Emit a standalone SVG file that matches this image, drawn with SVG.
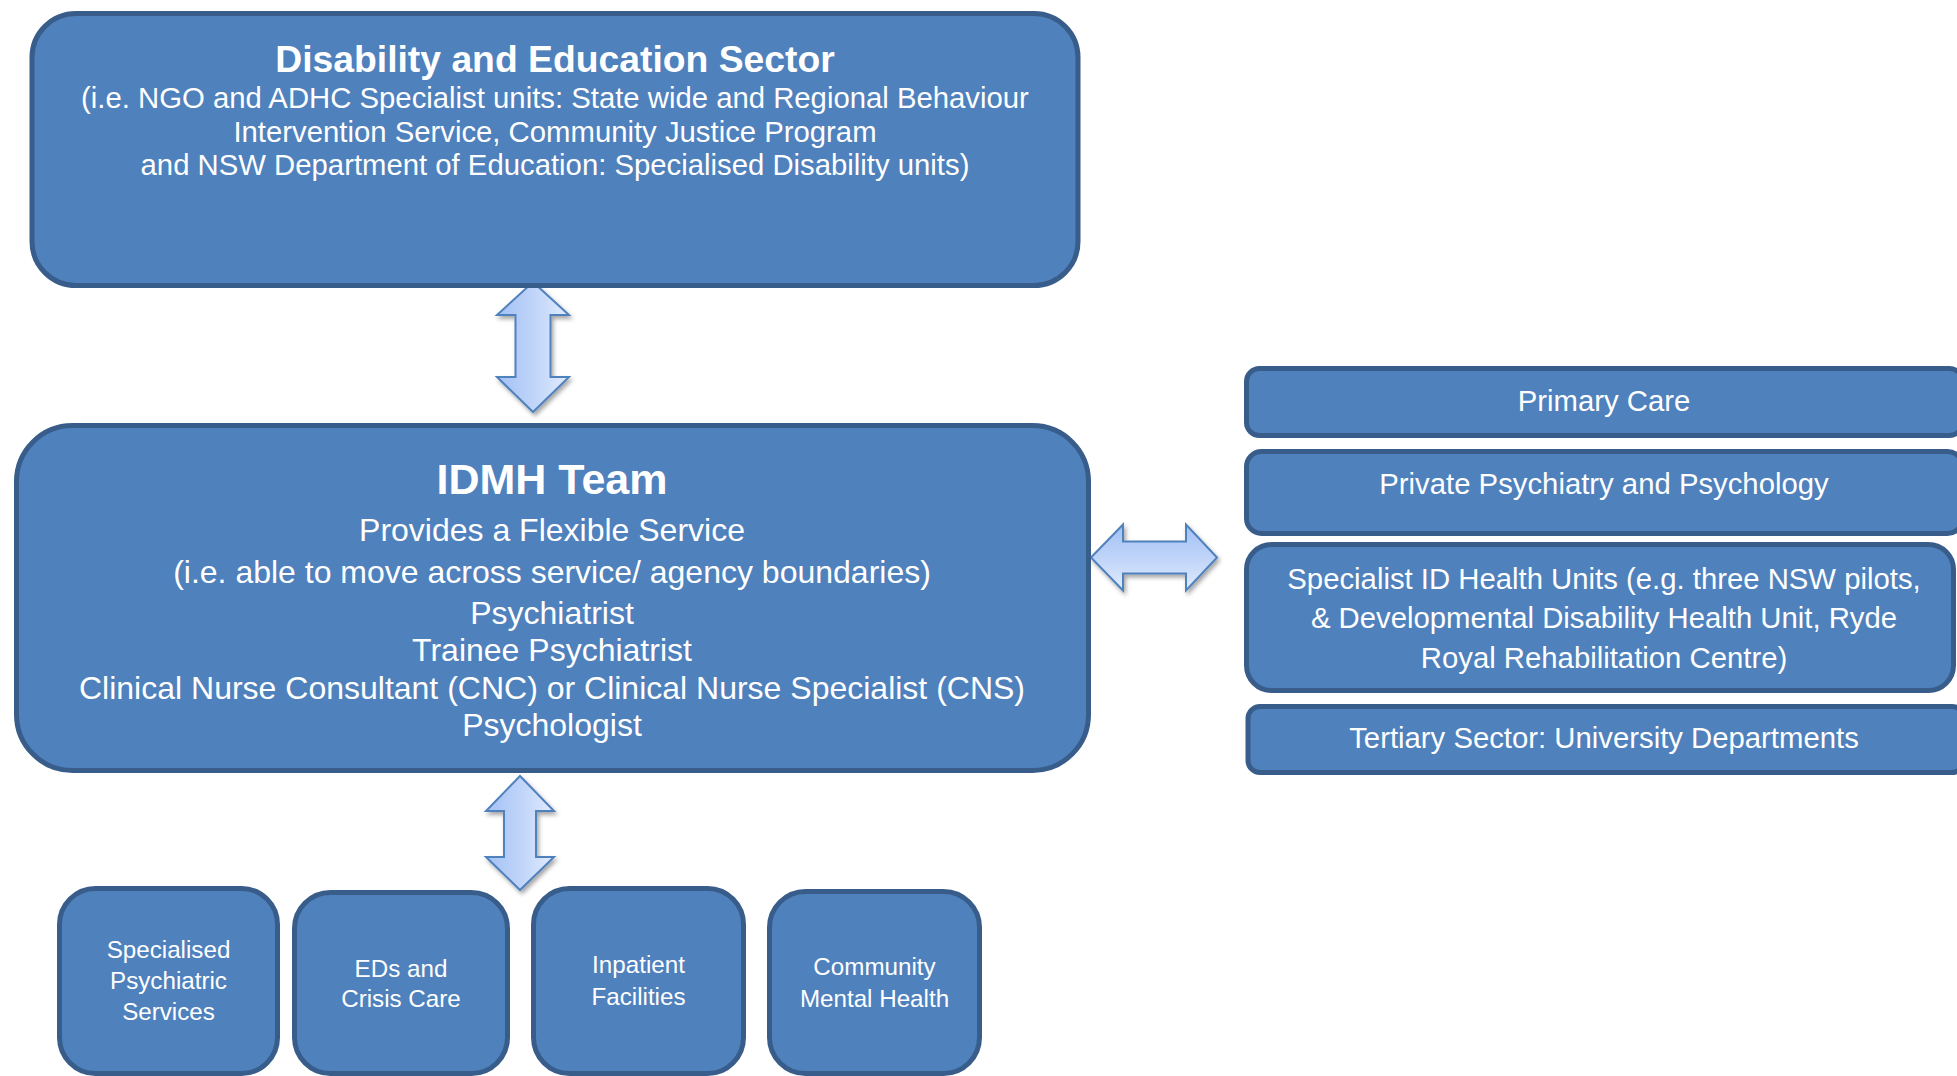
<svg xmlns="http://www.w3.org/2000/svg" width="1957" height="1076" viewBox="0 0 1957 1076">
  <defs>
    <style>
      .box { fill: #4F81BD; stroke: #385D8A; stroke-width: 5; }
      .t { font-family: "Liberation Sans", Arial, sans-serif; fill: #FFFFFF; text-anchor: middle; }
      .b { font-weight: bold; }
      .arrow { stroke: #4F81BD; stroke-width: 2; stroke-linejoin: miter; filter: url(#shadow); }
    </style>
    <linearGradient id="gradV" x1="0" y1="0" x2="1" y2="0">
      <stop offset="0" stop-color="#A3C1F5"/>
      <stop offset="0.5" stop-color="#BFD4F9"/>
      <stop offset="1" stop-color="#E1EBFD"/>
    </linearGradient>
    <linearGradient id="gradH" x1="0" y1="0" x2="0" y2="1">
      <stop offset="0" stop-color="#A3C1F5"/>
      <stop offset="0.5" stop-color="#BFD4F9"/>
      <stop offset="1" stop-color="#E1EBFD"/>
    </linearGradient>
    <filter id="shadow" x="-20%" y="-20%" width="150%" height="150%">
      <feDropShadow dx="2" dy="3" stdDeviation="2" flood-color="#000000" flood-opacity="0.35"/>
    </filter>
  </defs>

  <!-- connectors: double-headed block arrows -->
  <g id="connectors">
    <path class="arrow" fill="url(#gradV)" d="M533,282 L569,315 L550.5,315 L550.5,377 L569,377 L533,412 L497,377 L515.5,377 L515.5,315 L497,315 Z"/>
    <path class="arrow" fill="url(#gradV)" d="M520,776 L554,811 L536,811 L536,857 L554,857 L520,890 L486,857 L504,857 L504,811 L486,811 Z"/>
    <path class="arrow" fill="url(#gradH)" d="M1091,557.5 L1123,524.5 L1123,541.5 L1186,541.5 L1186,524.5 L1217,557.5 L1186,590.5 L1186,573.5 L1123,573.5 L1123,590.5 Z"/>
  </g>

  <!-- Disability and Education Sector -->
  <g id="disability-education">
    <rect class="box" x="32" y="13.5" width="1046" height="272" rx="44" ry="44"/>
    <text class="t b" x="555" y="72" font-size="37.3">Disability and Education Sector</text>
    <text class="t" x="555" y="108" font-size="29.3">(i.e. NGO and ADHC Specialist units: State wide and Regional Behaviour</text>
    <text class="t" x="555" y="142" font-size="29.3">Intervention Service, Community Justice Program</text>
    <text class="t" x="555" y="175" font-size="29.3">and NSW Department of Education: Specialised Disability units)</text>
  </g>

  <!-- IDMH Team -->
  <g id="idmh-team">
    <rect class="box" x="16.5" y="425.5" width="1072" height="345" rx="56" ry="56"/>
    <text class="t b" x="552" y="494" font-size="43">IDMH Team</text>
    <text class="t" x="552" y="541" font-size="32">Provides a Flexible Service</text>
    <text class="t" x="552" y="583" font-size="32">(i.e. able to move across service/ agency boundaries)</text>
    <text class="t" x="552" y="624" font-size="32">Psychiatrist</text>
    <text class="t" x="552" y="661" font-size="32">Trainee Psychiatrist</text>
    <text class="t" x="552" y="699" font-size="32">Clinical Nurse Consultant (CNC) or Clinical Nurse Specialist (CNS)</text>
    <text class="t" x="552" y="736" font-size="32">Psychologist</text>
  </g>

  <!-- partner services (right column) -->
  <g id="primary-care">
    <rect class="box" x="1246.5" y="368.5" width="716" height="67" rx="13" ry="13"/>
    <text class="t" x="1604" y="411" font-size="29.3">Primary Care</text>
  </g>
  <g id="private-psychiatry">
    <rect class="box" x="1246.5" y="451.5" width="716" height="82" rx="15" ry="15"/>
    <text class="t" x="1604" y="494" font-size="29.3">Private Psychiatry and Psychology</text>
  </g>
  <g id="specialist-id-units">
    <rect class="box" x="1246.5" y="544.5" width="707" height="146" rx="25" ry="25"/>
    <text class="t" x="1604" y="589" font-size="29.3">Specialist ID Health Units (e.g. three NSW pilots,</text>
    <text class="t" x="1604" y="628" font-size="29.3">&amp; Developmental Disability Health Unit, Ryde</text>
    <text class="t" x="1604" y="668" font-size="29.3">Royal Rehabilitation Centre)</text>
  </g>
  <g id="tertiary-sector">
    <rect class="box" x="1248" y="706.5" width="716" height="66" rx="12" ry="12"/>
    <text class="t" x="1604" y="748" font-size="29.3">Tertiary Sector: University Departments</text>
  </g>

  <!-- mental health services (bottom row) -->
  <g id="specialised-psychiatric">
    <rect class="box" x="59.5" y="888.5" width="218" height="185" rx="36" ry="36"/>
    <text class="t" x="168.5" y="958" font-size="24.2">Specialised</text>
    <text class="t" x="168.5" y="989" font-size="24.2">Psychiatric</text>
    <text class="t" x="168.5" y="1020" font-size="24.2">Services</text>
  </g>
  <g id="eds-crisis-care">
    <rect class="box" x="294.5" y="892.5" width="213" height="181" rx="36" ry="36"/>
    <text class="t" x="401" y="977" font-size="24.2">EDs and</text>
    <text class="t" x="401" y="1007" font-size="24.2">Crisis Care</text>
  </g>
  <g id="inpatient-facilities">
    <rect class="box" x="533.5" y="888.5" width="210" height="185" rx="36" ry="36"/>
    <text class="t" x="638.5" y="973" font-size="24.2">Inpatient</text>
    <text class="t" x="638.5" y="1005" font-size="24.2">Facilities</text>
  </g>
  <g id="community-mental-health">
    <rect class="box" x="769.5" y="891.5" width="210" height="182" rx="36" ry="36"/>
    <text class="t" x="874.5" y="975" font-size="24.2">Community</text>
    <text class="t" x="874.5" y="1007" font-size="24.2">Mental Health</text>
  </g>
</svg>
